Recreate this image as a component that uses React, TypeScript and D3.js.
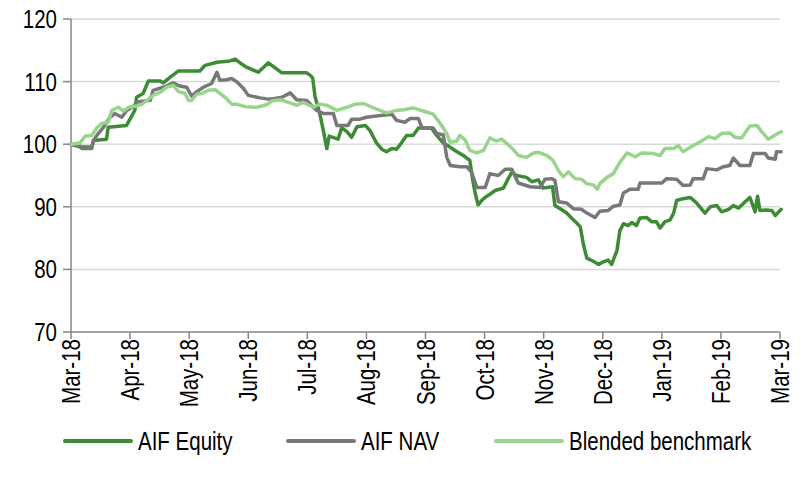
import React from "react";
import * as d3 from "d3";

// x positions are months since 1 Mar 2018 (0 = Mar-18, 12 = Mar-19)
const monthLabels = ["Mar-18","Apr-18","May-18","Jun-18","Jul-18","Aug-18","Sep-18","Oct-18","Nov-18","Dec-18","Jan-19","Feb-19","Mar-19"];
const yTicks = [70, 80, 90, 100, 110, 120];

const equityT = [0.00,0.15,0.35,0.38,0.60,0.63,0.94,1.08,1.11,1.22,1.31,1.51,1.56,1.68,1.82,2.18,2.27,2.47,2.69,2.78,2.89,2.97,3.17,3.34,3.57,3.99,4.05,4.09,4.13,4.21,4.27,4.33,4.37,4.52,4.58,4.67,4.75,4.84,4.98,5.06,5.17,5.26,5.34,5.43,5.51,5.60,5.68,5.79,5.88,6.10,6.19,6.30,6.39,6.50,6.64,6.75,6.80,6.84,6.89,6.95,7.01,7.09,7.18,7.32,7.40,7.46,7.54,7.71,7.80,7.91,7.99,8.15,8.19,8.28,8.39,8.47,8.56,8.62,8.67,8.73,8.84,8.93,9.01,9.09,9.15,9.24,9.29,9.35,9.43,9.49,9.57,9.63,9.74,9.83,9.91,9.97,10.05,10.14,10.20,10.25,10.36,10.48,10.59,10.73,10.82,10.93,11.01,11.13,11.21,11.30,11.41,11.49,11.58,11.62,11.66,11.77,11.86,11.92,12.02];
const equityV = [100,99.6,99.5,100.6,100.8,102.7,103.0,105.4,107.5,108.1,110.1,110.1,109.8,110.7,111.7,111.7,112.6,113.1,113.3,113.6,112.8,112.3,111.5,113.0,111.4,111.4,111.0,110.6,107.6,104.9,102.2,99.3,101.3,100.8,102.6,102.0,101.1,102.8,103.0,102.2,100.2,99.2,98.8,99.3,99.2,100.3,101.4,101.4,102.6,102.6,101.4,100.2,99.7,99.0,98.2,97.4,94.2,92.2,90.3,91.0,91.5,92.0,92.6,93.0,94.5,95.5,95.0,94.7,94.0,94.3,93.0,93.2,90.2,89.7,89.0,88.2,87.4,86.8,84.1,81.8,81.3,80.8,81.2,81.5,80.8,83.0,86.2,87.3,87.0,87.5,87.0,88.2,88.3,87.6,87.6,86.6,87.6,87.9,89.0,91.0,91.3,91.5,90.6,89.0,90.0,90.2,89.2,89.6,90.2,89.8,90.8,91.5,89.2,91.7,89.4,89.5,89.4,88.6,89.6];

const navT = [0.00,0.15,0.18,0.35,0.38,0.46,0.55,0.66,0.74,0.86,0.94,1.05,1.14,1.34,1.39,1.56,1.73,1.84,1.96,2.04,2.13,2.24,2.38,2.47,2.52,2.63,2.72,2.80,2.92,3.00,3.20,3.34,3.45,3.57,3.71,3.82,3.99,4.10,4.16,4.27,4.44,4.50,4.69,4.75,4.89,5.00,5.17,5.43,5.51,5.65,5.74,5.88,5.94,6.13,6.19,6.30,6.36,6.42,6.58,6.70,6.78,6.87,7.01,7.09,7.23,7.35,7.46,7.57,7.77,7.94,8.02,8.14,8.19,8.25,8.39,8.50,8.64,8.73,8.87,8.95,9.09,9.18,9.29,9.35,9.46,9.60,9.63,10.00,10.08,10.25,10.36,10.48,10.53,10.70,10.76,10.93,11.04,11.15,11.21,11.32,11.49,11.55,11.75,11.80,11.92,11.94,12.02];
const navV = [100,99.7,99.3,99.3,100.6,101.7,102.7,104.3,104.9,104.3,105.4,106.0,106.8,107.0,108.6,109.1,109.8,109.3,109.1,107.7,108.4,109.1,109.7,111.5,110.2,110.3,110.5,110.0,108.9,107.8,107.4,107.2,107.3,107.5,108.2,107.1,107.0,105.9,105.4,104.9,104.9,103.0,103.0,104.0,104.0,104.3,104.5,104.8,103.8,103.5,104.1,104.1,102.6,102.6,101.7,101.5,97.9,96.6,96.4,96.4,95.5,93.1,93.1,95.3,95.0,96.0,96.0,93.8,93.2,93.1,94.4,94.5,94.2,90.8,90.6,89.7,89.6,89.0,88.3,89.3,89.4,90.1,90.3,92.2,92.8,92.8,93.8,93.8,94.5,94.4,93.4,93.5,94.5,94.5,96.1,95.9,96.4,96.6,97.8,96.6,96.6,98.5,98.5,97.8,97.6,98.8,98.8];

const benchT = [0.00,0.15,0.24,0.35,0.43,0.52,0.63,0.69,0.80,0.89,0.97,1.11,1.22,1.39,1.51,1.62,1.73,1.82,1.93,1.99,2.04,2.13,2.21,2.32,2.44,2.52,2.63,2.72,2.80,2.95,3.14,3.31,3.40,3.54,3.71,3.82,3.93,4.10,4.21,4.33,4.50,4.67,4.81,4.95,5.12,5.34,5.51,5.63,5.79,5.96,6.13,6.25,6.36,6.42,6.53,6.58,6.67,6.75,6.87,6.98,7.09,7.20,7.29,7.46,7.57,7.71,7.83,7.91,8.05,8.16,8.25,8.33,8.42,8.53,8.64,8.73,8.84,8.91,8.95,9.07,9.18,9.29,9.41,9.55,9.66,9.86,9.97,10.05,10.20,10.28,10.36,10.48,10.65,10.79,10.90,11.01,11.15,11.24,11.35,11.49,11.61,11.69,11.80,11.94,12.02];
const benchV = [100,100.2,101.3,101.4,102.5,103.3,103.5,105.4,105.9,105.3,105.9,106.1,106.5,107.8,108.3,109.1,109.4,108.4,108.1,107.0,107.0,108.0,108.1,108.6,108.7,108.1,107.3,106.4,106.4,106.0,105.9,106.3,106.9,107.1,106.6,106.2,106.7,105.9,106.4,106.2,105.4,105.9,106.4,106.5,105.8,105.0,105.4,105.5,105.8,105.3,104.8,103.3,101.7,100.3,100.5,101.4,100.7,99.0,98.6,99.0,101.0,100.5,100.8,99.4,98.2,97.9,98.6,98.7,98.2,97.4,95.8,94.8,95.6,94.5,94.4,93.7,93.5,92.8,93.7,94.7,95.3,97.1,98.6,98.0,98.6,98.5,98.2,99.3,99.3,99.8,98.8,99.5,100.4,101.2,100.9,101.7,101.8,101.1,101.0,102.9,103.0,102.0,100.8,101.6,102.0];

const seriesNames = ["AIF Equity", "AIF NAV", "Blended benchmark"];
const seriesColors = ["#3e8b35", "#787878", "#98d48c"];

const W = 800, H = 482;
const left = 71, right = 780, top = 19, bottom = 332;
const FONT = "'Liberation Sans', Arial, sans-serif";
const SX = 0.82;

export default function App() {
  const x = d3.scaleLinear().domain([0, 12]).range([left, right]);
  const y = d3.scaleLinear().domain([70, 120]).range([bottom, top]);
  const line = d3.line<[number, number]>().x(d => x(d[0])).y(d => y(d[1]));
  const series = [
    d3.zip(equityT, equityV) as [number, number][],
    d3.zip(navT, navV) as [number, number][],
    d3.zip(benchT, benchV) as [number, number][],
  ];
  const legendX = [65, 288, 496];
  const legendY = 441;

  return (
    <svg width={W} height={H} style={{ position: "absolute", left: 0, top: 0, background: "#fff" }}>
      {yTicks.filter(t => t > 70).map(t => (
        <line key={"g" + t} x1={left} x2={right} y1={y(t)} y2={y(t)} stroke="#d9d9d9" strokeWidth={1.5} />
      ))}
      {/* y axis */}
      <line x1={left} x2={left} y1={y(120)} y2={bottom} stroke="#868686" strokeWidth={1.5} />
      {yTicks.map(t => (
        <g key={"y" + t}>
          <line x1={left - 8} x2={left} y1={y(t)} y2={y(t)} stroke="#868686" strokeWidth={1.5} />
          <text transform={`translate(57,${y(t)}) scale(${SX},1)`} textAnchor="end" dy="0.36em"
            fontFamily={FONT} fontSize={25} fill="#000">{t}</text>
        </g>
      ))}
      {/* x axis */}
      <line x1={left} x2={right} y1={bottom} y2={bottom} stroke="#868686" strokeWidth={1.5} />
      {monthLabels.map((m, i) => (
        <g key={m}>
          <line x1={x(i)} x2={x(i)} y1={bottom} y2={bottom + 7} stroke="#868686" strokeWidth={1.5} />
          <text transform={`translate(${x(i)},${bottom + 7}) rotate(-90) scale(${SX},1)`} textAnchor="end" dy="0.36em"
            fontFamily={FONT} fontSize={25} fill="#000">{m}</text>
        </g>
      ))}
      {series.map((s, i) => (
        <path key={"s" + i} d={line(s) || ""} fill="none" stroke={seriesColors[i]} strokeWidth={3.5}
          strokeLinejoin="round" strokeLinecap="round" />
      ))}
      {seriesNames.map((n, i) => (
        <g key={n}>
          <line x1={legendX[i]} x2={legendX[i] + 66} y1={legendY} y2={legendY} stroke={seriesColors[i]} strokeWidth={4} strokeLinecap="round" />
          <text transform={`translate(${legendX[i] + 73},${legendY + 9}) scale(${SX},1)`}
            fontFamily={FONT} fontSize={25} fill="#000">{n}</text>
        </g>
      ))}
    </svg>
  );
}
